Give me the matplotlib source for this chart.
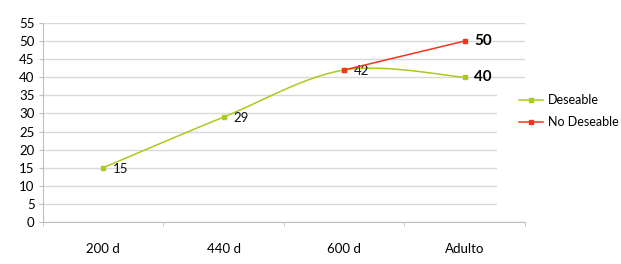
import matplotlib.pyplot as plt
from matplotlib.patches import Rectangle
import numpy as np

plt.rcParams["font.family"] = ["Lato", "DejaVu Sans"]

categories = ["200 d", "440 d", "600 d", "Adulto"]
deseable = [15, 29, 42, 40]
no_deseable_x = [2, 3]
no_deseable = [42, 50]

green = "#A8CC1E"
red = "#F5341C"


def smooth(xs, ys, n=40):
    # excel-like smoothed line (catmull-rom as cubic bezier)
    pts = np.column_stack([xs, ys]).astype(float)
    out = [pts[0]]
    for i in range(len(pts) - 1):
        p0 = pts[i - 1] if i > 0 else pts[i]
        p1, p2 = pts[i], pts[i + 1]
        p3 = pts[i + 2] if i + 2 < len(pts) else pts[i + 1]
        c1 = p1 + (p2 - p0) / 6
        c2 = p2 - (p3 - p1) / 6
        t = np.linspace(0, 1, n)[1:, None]
        seg = ((1 - t) ** 3) * p1 + 3 * ((1 - t) ** 2) * t * c1 + 3 * (1 - t) * t ** 2 * c2 + t ** 3 * p2
        out.extend(seg)
    out = np.array(out)
    return out[:, 0], out[:, 1]


fig = plt.figure(figsize=(6.21, 2.64), dpi=100)
ax = fig.add_axes([0.069, 0.159, 0.776, 0.754])

x = np.arange(len(categories))
sx, sy = smooth(x, deseable)
ax.plot(sx, sy, color=green, lw=1.1, zorder=3)
ax.plot(x, deseable, ls="none", marker="s", ms=3, color=green, zorder=4)
ax.plot(no_deseable_x, no_deseable, color=red, lw=1.1, marker="s", ms=3, zorder=4)

for xi, v in zip(x[:3], deseable[:3]):
    ax.annotate(str(v), (xi, v), xytext=(7, -1), textcoords="offset points",
                va="center", ha="left", fontsize=9.5, color="#111111")
ax.annotate(str(deseable[3]), (x[3], deseable[3]), xytext=(7, 0), textcoords="offset points",
            va="center", ha="left", fontsize=11, fontweight="bold", color="#000000")
ax.annotate(str(no_deseable[1]), (no_deseable_x[1], no_deseable[1]), xytext=(7, 0),
            textcoords="offset points", va="center", ha="left", fontsize=11,
            fontweight="bold", color="#000000")

ax.set_xlim(-0.5, 3.5)
ax.set_ylim(0, 55)
ax.set_yticks(np.arange(0, 56, 5))
ax.set_xticks(x)
ax.set_xticklabels(categories)
ax.set_xticks(np.arange(-0.5, 3.6, 1), minor=True)
ax.tick_params(axis="x", which="major", length=0, pad=15, labelsize=9.5)
ax.tick_params(axis="x", which="minor", length=3, color="#BFBFBF", direction="out")
ax.tick_params(axis="y", length=3, color="#BFBFBF", pad=3, labelsize=9.5)
ax.grid(axis="y", color="#D9D9D9", lw=1)
ax.set_axisbelow(True)
for s in ["top", "right"]:
    ax.spines[s].set_visible(False)
for s in ["left", "bottom"]:
    ax.spines[s].set_color("#BFBFBF")

# legend area covers part of the gridlines
fig.patches.append(Rectangle((497 / 621, 1 - 213 / 264), 124 / 621, 128 / 264,
                             transform=fig.transFigure, facecolor="white",
                             edgecolor="none", zorder=1))

handles = [plt.Line2D([], [], color=green, marker="s", ms=3, lw=1.1),
           plt.Line2D([], [], color=red, marker="s", ms=3, lw=1.1)]
fig.legend(handles, ["Deseable", "No Deseable"], loc="center left",
           bbox_to_anchor=(519 / 621, 1 - 111 / 264), frameon=False, fontsize=9,
           borderpad=0, borderaxespad=0, handlelength=1.9, handletextpad=0.4,
           labelspacing=0.8)

fig.savefig("out.png", dpi=100)
